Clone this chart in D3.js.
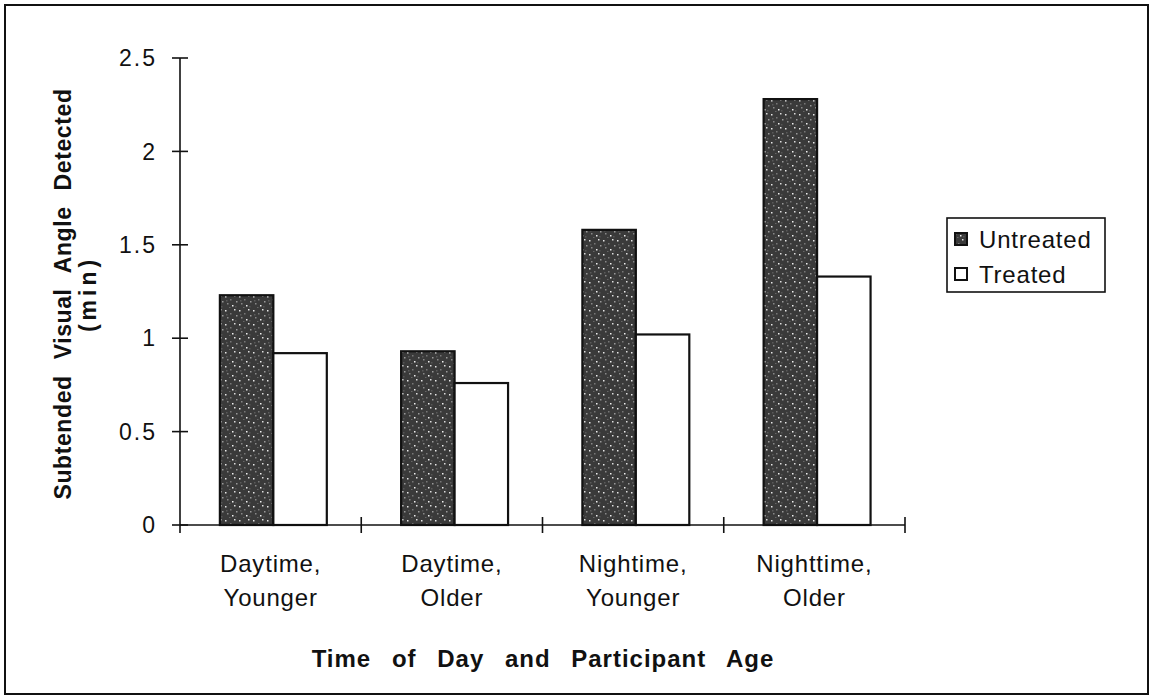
<!DOCTYPE html>
<html>
<head>
<meta charset="utf-8">
<script src="https://cdn.jsdelivr.net/npm/d3@7"></script>
<style>
  html, body { margin: 0; padding: 0; background: #fff; }
  svg { display: block; font-family: "Liberation Sans", Arial, sans-serif; }
</style>
</head>
<body>
<svg id="chart" width="1152" height="698"></svg>
<script>
// ---- data ----
const categories = [["Daytime,", "Younger"], ["Daytime,", "Older"], ["Nightime,", "Younger"], ["Nighttime,", "Older"]];
const seriesNames = ["Untreated", "Treated"];
const untreated = [1.23, 0.93, 1.58, 2.28];
const treated = [0.92, 0.76, 1.02, 1.33];
const yTicks = [0, 0.5, 1, 1.5, 2, 2.5];
const yTitle = "Subtended Visual Angle Detected";
const yTitle2 = "(min)";
const xTitle = "Time of Day and Participant Age";

const svg = d3.select("#chart");

// outer frame
svg.append("rect").attr("x", 5).attr("y", 5).attr("width", 1143).attr("height", 689)
  .attr("fill", "#fff").attr("stroke", "#111").attr("stroke-width", 2);

// pattern for untreated
const defs = svg.append("defs");
const pat = defs.append("pattern").attr("id", "stipple").attr("patternUnits", "userSpaceOnUse")
  .attr("width", 14).attr("height", 14);
pat.append("rect").attr("width", 14).attr("height", 14).attr("fill", "#3a3a3a");
[[1,2,"#e8e8e8"],[6,5,"#777"],[10,1,"#ddd"],[3,9,"#888"],[8,11,"#f0f0f0"],[12,7,"#999"],[5,13,"#666"],[11,12,"#555"],[2,6,"#5a5a5a"]].forEach(d => {
  pat.append("rect").attr("x", d[0]).attr("y", d[1]).attr("width", 1.5).attr("height", 1.5).attr("fill", d[2]);
});

const x0 = d3.scaleBand().domain(d3.range(categories.length)).range([180, 905]).paddingInner(0).paddingOuter(0);
const bw = x0.bandwidth();
const x1 = d3.scaleBand().domain(seriesNames).range([bw * 0.22, bw * 0.81]).padding(0);
const y = d3.scaleLinear().domain([0, 2.5]).range([525, 58]);

// bars
const data = categories.map((c, i) => ({ i, vals: [untreated[i], treated[i]] }));
const g = svg.append("g");
data.forEach(d => {
  d.vals.forEach((v, s) => {
    g.append("rect")
      .attr("x", x0(d.i) + x1(seriesNames[s]))
      .attr("y", y(v))
      .attr("width", x1.bandwidth())
      .attr("height", y(0) - y(v))
      .attr("fill", s === 0 ? "url(#stipple)" : "#fff")
      .attr("stroke", "#111")
      .attr("stroke-width", 2.2);
  });
});

// y axis
const ax = svg.append("g").attr("stroke", "#111").attr("stroke-width", 1.6);
ax.append("line").attr("x1", 180).attr("x2", 180).attr("y1", y(2.5)).attr("y2", y(0) + 8);
yTicks.forEach(t => {
  ax.append("line").attr("x1", 172).attr("x2", 188).attr("y1", y(t)).attr("y2", y(t));
});
svg.append("g").selectAll("text").data(yTicks).join("text")
  .attr("x", 157).attr("y", t => y(t)).attr("dy", "0.36em")
  .attr("text-anchor", "end").attr("font-size", 23).attr("letter-spacing", 2)
  .attr("fill", "#111").text(t => String(t));

// x axis
ax.append("line").attr("x1", 180).attr("x2", 905).attr("y1", y(0)).attr("y2", y(0));
d3.range(categories.length + 1).forEach(i => {
  const xx = i < categories.length ? x0(i) : x0(categories.length - 1) + bw;
  if (i > 0) ax.append("line").attr("x1", xx).attr("x2", xx).attr("y1", y(0) - 8).attr("y2", y(0) + 8);
});

// category labels
const cl = svg.append("g");
categories.forEach((c, i) => {
  const cx = x0(i) + bw / 2;
  c.forEach((line, k) => {
    cl.append("text").attr("x", cx).attr("y", 572 + k * 34)
      .attr("text-anchor", "middle").attr("font-size", 24).attr("letter-spacing", 0.8)
      .attr("fill", "#111").text(line);
  });
});

// x title
svg.append("text").attr("x", 543).attr("y", 667).attr("text-anchor", "middle")
  .attr("font-size", 24).attr("font-weight", "bold").attr("letter-spacing", 1)
  .attr("word-spacing", 13).attr("fill", "#111").text(xTitle);

// y title
svg.append("text").attr("transform", "translate(71,294) rotate(-90)")
  .attr("text-anchor", "middle").attr("font-size", 23).attr("font-weight", "bold")
  .attr("letter-spacing", 0.6).attr("word-spacing", 9).attr("fill", "#111").text(yTitle);
svg.append("text").attr("transform", "translate(96,294) rotate(-90)")
  .attr("text-anchor", "middle").attr("font-size", 23).attr("font-weight", "bold")
  .attr("letter-spacing", 4).attr("fill", "#111").text(yTitle2);

// legend
const lg = svg.append("g");
lg.append("rect").attr("x", 947).attr("y", 218).attr("width", 158).attr("height", 74)
  .attr("fill", "#fff").attr("stroke", "#111").attr("stroke-width", 1.6);
seriesNames.forEach((s, k) => {
  const yy = 239 + k * 35;
  lg.append("rect").attr("x", 955).attr("y", yy - 6).attr("width", 12).attr("height", 12)
    .attr("fill", k === 0 ? "url(#stipple)" : "#fff").attr("stroke", "#111").attr("stroke-width", 2);
  lg.append("text").attr("x", 979).attr("y", yy).attr("dy", "0.36em")
    .attr("font-size", 24).attr("letter-spacing", 0.8).attr("fill", "#111").text(s);
});
</script>
</body>
</html>
